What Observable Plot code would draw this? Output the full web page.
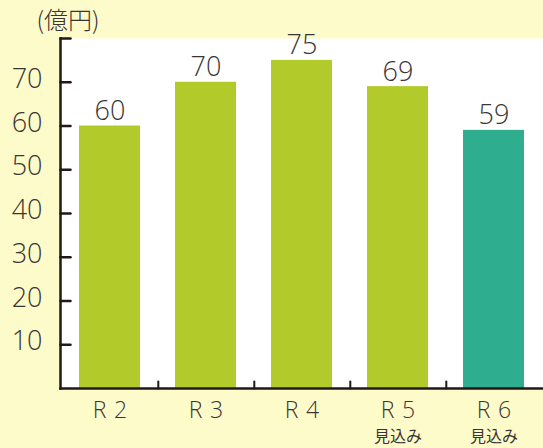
<!DOCTYPE html>
<html>
<head>
<meta charset="utf-8">
<script src="https://cdn.jsdelivr.net/npm/d3@7"></script>
<script src="https://cdn.jsdelivr.net/npm/@observablehq/plot@0.6"></script>
<style>
  html, body { margin: 0; padding: 0; background: #fefbcb; }
  #chart svg { display: block; }
</style>
</head>
<body>
<div id="chart"></div>
<script>
const categories = ["R 2", "R 3", "R 4", "R 5", "R 6"];
const subLabels = ["", "", "", "見込み", "見込み"];
const values = [60, 70, 75, 69, 59];
const barColors = ["#b2cb2a", "#b2cb2a", "#b2cb2a", "#b2cb2a", "#2eae8f"];
const yTickLabels = [10, 20, 30, 40, 50, 60, 70];
const yTickMarks = [10, 20, 30, 40, 50, 60, 70, 80];
const unitLabel = "(億円)";

const data = categories.map((c, i) => ({cat: c, value: values[i], color: barColors[i], sub: subLabels[i]}));

const W = 543, H = 448;
const mL = 60, mR = 0, mT = 38, mB = 60;
const step = (W - mL - mR) / categories.length;
const numFont = "'Open Sans', 'Noto Sans', sans-serif";
const jpFont = "'Noto Sans CJK JP', sans-serif";
const ink = "#231815";
const textInk = "#3a3535";
const line = {draw(context, l) { context.moveTo(0, 0); context.lineTo(0, -l); }};

const chart = Plot.plot({
  width: W,
  height: H,
  marginLeft: mL,
  marginRight: mR,
  marginTop: mT,
  marginBottom: mB,
  style: {background: "transparent", fontFamily: numFont, color: textInk, overflow: "visible"},
  x: {domain: categories, paddingInner: 0.36, paddingOuter: 0.18, axis: null},
  y: {domain: [0, 80], axis: null},
  marks: [
    Plot.frame({fill: "white", stroke: null}),
    Plot.barY(data, {x: "cat", y: "value", fill: "color"}),
    Plot.text(data, {x: "cat", y: "value", text: d => String(d.value), dy: -6, lineAnchor: "bottom", fontSize: 27, fontWeight: 300, fill: textInk}),
    // y tick labels
    Plot.text(yTickLabels, {y: d => d, frameAnchor: "left", dx: -18, dy: -3, textAnchor: "end", text: d => String(d), fontSize: 27, fontWeight: 300, fill: textInk}),
    // y ticks (inward)
    Plot.vector(yTickMarks, {y: d => d, frameAnchor: "left", length: 10, rotate: 90, anchor: "start", shape: line, stroke: ink, strokeWidth: 2.5}),
    // x boundary ticks (upward)
    Plot.vector(categories.slice(0, -1), {x: d => d, dx: step / 2, frameAnchor: "bottom", length: 7, rotate: 0, anchor: "start", shape: line, stroke: ink, strokeWidth: 2}),
    // axis lines
    Plot.frame({anchor: "left", stroke: ink, strokeWidth: 2.5}),
    Plot.frame({anchor: "bottom", stroke: ink, strokeWidth: 2.5}),
    // x labels
    Plot.text(data, {x: "cat", frameAnchor: "bottom", dy: 22, text: d => d.cat.replace(" ", "\u2004"), fontSize: 23, fontWeight: 300, fill: textInk, lineAnchor: "middle"}),
    Plot.text(data.filter(d => d.sub), {x: "cat", frameAnchor: "bottom", dy: 48, text: "sub", fontFamily: jpFont, fontSize: 16, fill: textInk, lineAnchor: "middle"}),
    // unit label
    Plot.text([unitLabel], {frameAnchor: "top-left", dx: -24, dy: -17, text: d => d, fontFamily: jpFont, textAnchor: "start", lineAnchor: "middle", fontSize: 24, fontWeight: 300, fill: textInk})
  ]
});

document.getElementById("chart").appendChild(chart);
</script>
</body>
</html>
